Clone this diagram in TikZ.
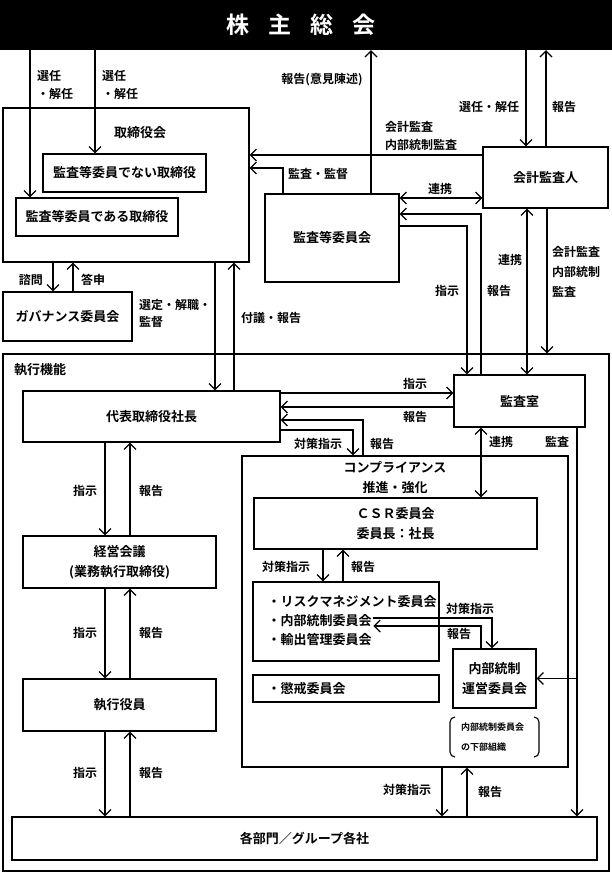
\documentclass[tikz,border=0pt]{standalone}
\usepackage{fontspec}
\setmainfont{Noto Sans CJK JP}[BoldFont=* Bold]
\usetikzlibrary{arrows.meta,shadows}

\tikzset{
  box/.style={draw, line width=1.2pt, fill=white, inner sep=0pt, align=center,
    font=\fontsize{13}{20}\selectfont\bfseries,
    drop shadow={shadow xshift=1.2pt, shadow yshift=-1.2pt, fill=black!45, opacity=1}},
  txt/.style={inner sep=1.5pt, align=left, font=\fontsize{13}{20}\selectfont\bfseries},
  lbl/.style={inner sep=0pt, align=left, font=\fontsize{12}{18}\selectfont\bfseries},
  link/.style={line width=1.2pt, -{Straight Barb[length=6pt,width=12pt]}},
  both/.style={line width=1.2pt, {Straight Barb[length=6pt,width=12pt]}-{Straight Barb[length=6pt,width=12pt]}}
}

\begin{document}
\begin{tikzpicture}[x=1pt, y=-1pt]
        \useasboundingbox (0,0) rectangle (612,876);
        % Shareholders
        \node[fill=black, minimum width=612pt, minimum height=50pt, inner sep=0pt] (gm) at (306,25) {};
        \node[text=white, font=\fontsize{23}{23}\selectfont\bfseries] (gmt) at (301,25) {株\hspace{19pt}主\hspace{19pt}総\hspace{19pt}会};

        % Board
        \node[box, minimum width=246pt, minimum height=154pt] (board) at (126,185) {};
        \node[txt] (boardt) at (140,133) {取締役会};
        \node[box, minimum width=163pt, minimum height=38pt] (denai) at (124.5,173) {監査等委員でない取締役};
        \node[box, minimum width=162pt, minimum height=38pt] (dea) at (97,217) {監査等委員である取締役};
        \node[box, minimum width=129pt, minimum height=49pt] (gov) at (67.5,316.5) {ガバナンス委員会};
        \node[box, minimum width=134pt, minimum height=88pt] (audcom) at (332,238) {監査等委員会};
        \node[box, minimum width=125pt, minimum height=61pt] (auditor) at (545.5,177.5) {会計監査人};

        % Execution
        \node[box, minimum width=606pt, minimum height=517pt] (exec) at (306,612.5) {};
        \node[txt] (exect) at (40,370) {執行機能};
        \node[box, minimum width=257pt, minimum height=51pt] (ceo) at (151.5,416.5) {代表取締役社長};
        \node[box, minimum width=193pt, minimum height=52pt] (mgmt) at (119.5,562) {経営会議\\(業務執行取締役)};
        \node[box, minimum width=193pt, minimum height=52pt] (officer) at (119.5,705) {執行役員};
        \node[box, minimum width=585pt, minimum height=43pt] (depts) at (304.5,838.5) {各部門／グループ各社};
        \node[box, minimum width=131pt, minimum height=52pt] (auditrm) at (519.5,401) {監査室};

        % Compliance
        \node[box, minimum width=326pt, minimum height=311pt] (comp) at (405,611.5) {};
        \node[txt, align=center] (compt) at (395,478) {コンプライアンス\\推進・強化};
        \node[box, minimum width=283pt, minimum height=51pt] (csr) at (395.5,523.5) {ＣＳＲ委員会\\委員長：社長};
        \node[box, minimum width=186pt, minimum height=79pt] (risk) at (346,621.5) {};
        \node[txt, anchor=west] (risk1) at (266,602) {・リスクマネジメント委員会};
        \node[txt, anchor=west] (risk2) at (266,621) {・内部統制委員会};
        \node[txt, anchor=west] (risk3) at (266,640) {・輸出管理委員会};
        \node[box, minimum width=186pt, minimum height=27pt] (disc) at (346,688.5) {};
        \node[txt, anchor=west] (disct) at (266,688.5) {・懲戒委員会};
        \node[box, minimum width=83pt, minimum height=59pt] (icops) at (494.5,678.5) {内部統制\\運営委員会};
        \node[lbl, anchor=west, font=\fontsize{9}{20}\selectfont\bfseries] (note) at (461,737) {内部統制委員会\\の下部組織};
        \draw[line width=1.1pt, rounded corners=5pt] (455,717) -- (450,717) -- (450,757) -- (455,757);
        \draw[line width=1.1pt, rounded corners=5pt] (534,717) -- (539,717) -- (539,757) -- (534,757);

        % Shareholders and board
        \draw[link] (gm.south -| 30,0) -- (dea.north -| 30,0);
        \draw[link] (gm.south -| 95,0) -- (denai.north -| 95,0);
        \node[lbl, anchor=west] (sel1) at (37,85) {選任\\・解任};
        \node[lbl, anchor=west] (sel2) at (102,85) {選任\\・解任};
        \draw[link] (audcom.north -| 371,0) -- (gm.south -| 371,0);
        \node[lbl] (opin) at (322,80) {報告(意見陳述)};
        \draw[link] (gm.south -| 526,0) -- (auditor.north -| 526,0);
        \node[lbl] (sel3) at (489,107) {選任・解任};
        \draw[link] (auditor.north -| 546,0) -- (gm.south -| 546,0);
        \node[lbl] (rep1) at (564,107) {報告};

        % Audit lines
        \draw[link] (auditor.west |- 0,155) -- (board.east |- 0,155);
        \node[lbl, anchor=west] (acc1) at (385,136) {会計監査\\内部統制監査};
        \draw[link] (audcom.north -| 283,0) |- (board.east |- 0,168);
        \node[lbl] (sup) at (318,174) {監査・監督};
        \draw[both] (audcom.east |- 0,198) -- (auditor.west |- 0,198);
        \node[lbl] (coop1) at (440,189) {連携};
        \draw[link] (auditrm.north -| 481,0) |- (audcom.east |- 0,214);
        \node[lbl] (rep2) at (499,291) {報告};
        \draw[link] (audcom.east |- 0,226) -| (auditrm.north -| 467,0);
        \node[lbl] (cmd1) at (447,291) {指示};
        \draw[both] (auditor.south -| 527,0) -- (auditrm.north -| 527,0);
        \node[lbl] (coop2) at (510,260) {連携};
        \draw[link] (auditor.south -| 547,0) -- (exec.north -| 547,0);
        \node[lbl, anchor=west, font=\fontsize{12}{20}\selectfont\bfseries] (acc2) at (552,272) {会計監査\\内部統制\\監査};

        % Board and governance
        \draw[link] (board.south -| 53,0) -- (gov.north -| 53,0);
        \node[lbl] (cons) at (31,280) {諮問};
        \draw[link] (gov.north -| 73,0) -- (board.south -| 73,0);
        \node[lbl] (ans) at (93,280) {答申};
        \draw[link] (board.south -| 215,0) -- (ceo.north -| 215,0);
        \node[lbl, anchor=west, font=\fontsize{12}{17}\selectfont\bfseries] (appt) at (139,313) {選定・解職・\\監督};
        \draw[link] (ceo.north -| 234,0) -- (board.south -| 234,0);
        \node[lbl] (agenda) at (271,318) {付議・報告};

        % Execution chain
        \foreach \a/\b/\y in {ceo/mgmt/491, mgmt/officer/633, officer/depts/773}
        {
          \draw[link] (\a.south -| 105,0) -- (\b.north -| 105,0);
          \draw[link] (\b.north -| 130,0) -- (\a.south -| 130,0);
          \node[lbl] (cmd\y) at (85,\y) {指示};
          \node[lbl] (rep\y) at (151,\y) {報告};
        }

        % President and audit office
        \draw[link] (ceo.east |- 0,393) -- (auditrm.west |- 0,393);
        \node[lbl] (cmd2) at (415,384) {指示};
        \draw[link] (auditrm.west |- 0,407) -- (ceo.east |- 0,407);
        \node[lbl] (rep3) at (415,417) {報告};
        \draw[link] (ceo.east |- 0,430) -| (comp.north -| 353,0);
        \node[lbl] (meas1) at (318,444) {対策指示};
        \draw[link] (comp.north -| 363,0) |- (ceo.east |- 0,420);
        \node[lbl] (rep4) at (382,444) {報告};
        \draw[both] (auditrm.south -| 481,0) -- (csr.north -| 481,0);
        \node[lbl] (coop3) at (501,442) {連携};
        \draw[link] (auditrm.south -| 577,0) -- (depts.north -| 577,0);
        \draw[link] (icops.east -| 577,0) -- (icops.east);
        \node[lbl] (aud) at (557,442) {監査};

        % Inside compliance
        \draw[link] (csr.south -| 323,0) -- (risk.north -| 323,0);
        \node[lbl] (meas2) at (286,567) {対策指示};
        \draw[link] (risk.north -| 343,0) -- (csr.south -| 343,0);
        \node[lbl] (rep5) at (363,567) {報告};
        \draw[line width=1.2pt, -{Straight Barb[length=6pt,width=12pt]}] (risk2.east |- 0,618) -| (icops.north -| 492,0);
        \node[lbl] (meas3) at (470,609) {対策指示};
        \draw[link] (icops.north -| 481,0) |- (risk2.east |- 0,626);
        \node[lbl] (rep6) at (459,634) {報告};
        \draw[link] (comp.south -| 442,0) -- (depts.north -| 442,0);
        \node[lbl] (meas4) at (407,790) {対策指示};
        \draw[link] (depts.north -| 467,0) -- (comp.south -| 467,0);
        \node[lbl] (rep7) at (490,792) {報告};
\end{tikzpicture}
\end{document}
